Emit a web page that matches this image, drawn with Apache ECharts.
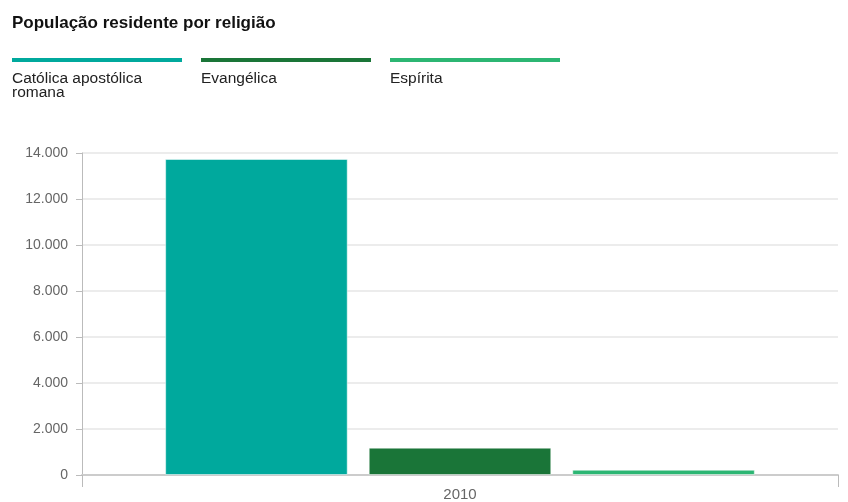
<!DOCTYPE html>
<html>
<head>
<meta charset="utf-8">
<script src="https://cdn.jsdelivr.net/npm/echarts@6/dist/echarts.min.js"></script>
<style>
  html, body { margin: 0; padding: 0; background: #fff; }
  #chart { width: 848px; height: 502px; }
</style>
</head>
<body>
<div id="chart"></div>
<script>
// Residentes por religião (Censo 2010)
const titleText = 'População residente por religião';
const years = ['2010'];
const religions = ['Católica apostólica romana', 'Evangélica', 'Espírita'];
const catolica = [13740];
const evangelica = [1190];
const espirita = [230];
const colors = ['#00a99d', '#1a7538', '#2cb673'];
const yTicks = { min: 0, max: 14000, interval: 2000 };

const seriesValues = [catolica, evangelica, espirita];
const FONT = '"Liberation Sans", Arial, sans-serif';

function fmtBR(v) {
  return String(v).replace(/\B(?=(\d{3})+(?!\d))/g, '.');
}

const chart = echarts.init(document.getElementById('chart'), null, { renderer: 'canvas' });

// Legend drawn as a colored rule above each name
const legendGraphics = [];
religions.forEach((name, i) => {
  const x = 12 + i * 189;
  legendGraphics.push({
    type: 'rect',
    left: x, top: 58,
    shape: { width: 170, height: 4 },
    style: { fill: colors[i] },
    silent: true
  });
  legendGraphics.push({
    type: 'text',
    left: x, top: 71,
    style: {
      text: name,
      width: 150,
      overflow: 'break',
      font: '15.5px ' + FONT,
      lineHeight: 14,
      fill: '#222'
    },
    silent: true
  });
});

chart.setOption({
  animation: false,
  backgroundColor: '#fff',
  title: {
    text: titleText,
    left: 12, top: 15, padding: 0,
    textStyle: {
      fontFamily: FONT,
      fontSize: 17, fontWeight: 'bold', color: '#111'
    }
  },
  graphic: legendGraphics,
  grid: { left: 82, right: 10, top: 153, bottom: 25 },
  xAxis: {
    type: 'category',
    data: years,
    axisLine: { lineStyle: { color: '#cccccc', width: 2 } },
    axisTick: { show: true, length: 12, lineStyle: { color: '#bbbbbb' } },
    axisLabel: {
      color: '#666', fontSize: 15, margin: 12,
      fontFamily: FONT
    }
  },
  yAxis: {
    type: 'value',
    min: yTicks.min, max: yTicks.max, interval: yTicks.interval,
    axisLine: { show: true, lineStyle: { color: '#bbbbbb' } },
    axisTick: { show: true, length: 6, lineStyle: { color: '#bbbbbb' } },
    splitLine: { lineStyle: { color: '#ececec', width: 2 } },
    axisLabel: {
      color: '#666', fontSize: 14, margin: 14,
      fontFamily: FONT,
      formatter: fmtBR
    }
  },
  series: religions.map((name, i) => ({
    name: name,
    type: 'bar',
    data: seriesValues[i],
    barCategoryGap: '22%',
    barGap: '11.5%',
    itemStyle: { color: colors[i], borderColor: 'rgba(255,255,255,0.5)', borderWidth: 1 }
  }))
});
</script>
</body>
</html>
